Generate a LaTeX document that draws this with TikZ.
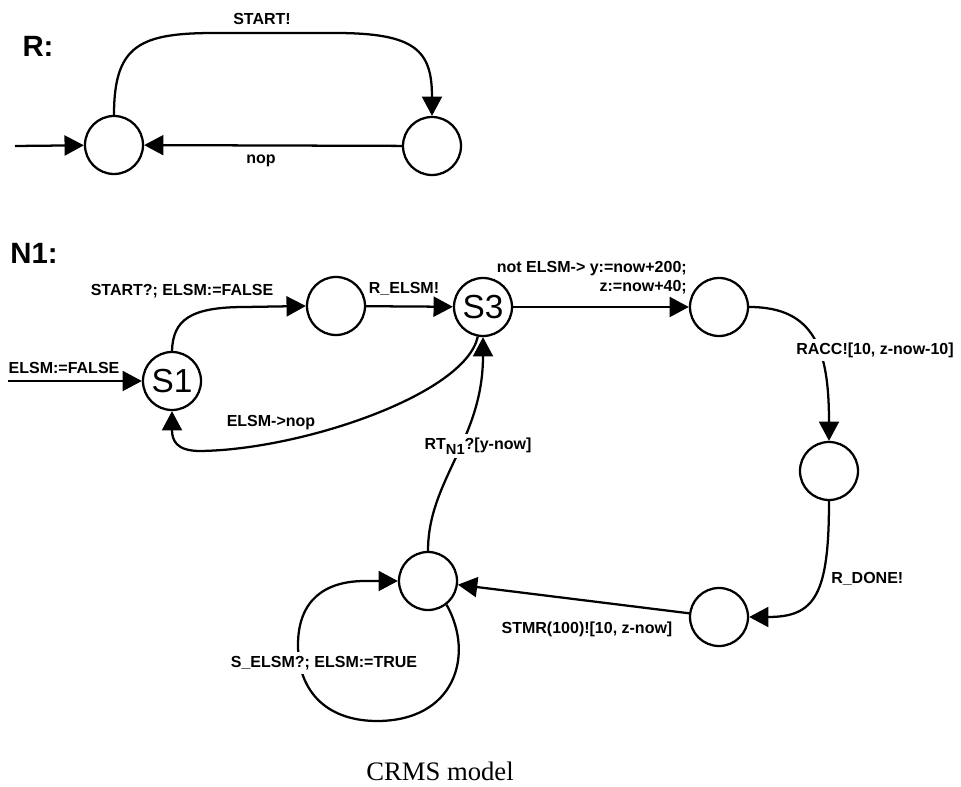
\documentclass[tikz,border=0pt]{standalone}
\usepackage{fontspec}
\setmainfont{Liberation Sans}
\newfontfamily\capfont{Liberation Serif}
\usepackage{tikz}
\usetikzlibrary{calc}
\usetikzlibrary{arrows.meta}

\begin{document}
\begin{tikzpicture}[x=0.75pt,y=-0.75pt]
			\tikzstyle{every node}=[font=\fontsize{12}{14.25}\selectfont\bfseries, inner sep=1.5pt]
			\tikzstyle{state}=[circle, draw, line width=1.7pt, minimum size=43.5pt, inner sep=0pt, font=\fontsize{25}{25}\selectfont]
			\tikzstyle{trans}=[line width=1.7pt, -{Triangle[length=14.5pt,width=15pt]}]
			\tikzstyle{cut}=[fill=white, inner sep=3pt]
			\tikzstyle{title}=[font=\fontsize{22}{22}\selectfont\bfseries]
			
			\useasboundingbox (0,0) rectangle (961,787);
			
			\node[title] (rname) at (38,46) {R:};
			\node[state] (r0) at (114,145) {};
			\node[state] (r1) at (432,146) {};
			\coordinate (rin) at (15,146);
			\draw[trans] (rin) -- (r0);
			\draw[trans] (r0.north) .. controls (114,45) and (140,33) .. (215,33) -- (335,33) .. controls (415,33) and (432,50) .. (r1.north);
			\draw[trans] (r1) -- (r0);
			\node (rstart) at (262,19) {START!};
			\node (rnop) at (261,161) {nop};
			
			\node[title] (nname) at (34,253) {N1:};
			\node[state] (s1) at (172,381) {S1};
			\node[state] (m1) at (336,306) {};
			\node[state] (s3) at (483,307) {S3};
			\node[state] (t1) at (719,307) {};
			\node[state] (t2) at (829,471) {};
			\node[state] (t3) at (719,617) {};
			\node[state] (t4) at (428,581) {};
			\coordinate (nin) at (8,381);
			
			\draw[trans] (nin) -- (s1);
			\draw[trans] (s1.north) .. controls (173,320) and (190,307) .. (245,307) -- (m1.west);
			\draw[trans] (m1) -- (s3);
			\draw[trans] (s3) -- (t1);
			\draw[trans] (t1.east) .. controls (815,307) and (829,350) .. (t2.north);
			\draw[trans] (t2.south) .. controls (829,595) and (815,617) .. (t3.east);
			\draw[trans] (t3) -- (t4);
			\draw[trans] (t4.north) .. controls (428,480) and (483,440) .. (s3.south);
			\draw[trans] (s3.-100) .. controls (465,395) and (300,450) .. (200,451) .. controls (176,451) and (172,440) .. (s1.south);
			\draw[trans] (t4.-52) .. controls (475,655) and (455,722) .. (375,721) .. controls (325,720) and (298,690) .. (298,645) .. controls (298,600) and (325,581) .. (365,581) -- (t4.west);
			
			\node (linit) at (64,368) {ELSM:=FALSE};
			\node (lstart) at (182,291) {START?; ELSM:=FALSE};
			\node (lrelsm) at (404,289) {R\_ELSM!};
			\node[align=right, anchor=east] (lnot) at (689,278) {not ELSM-> y:=now+200;\\ z:=now+40;};
			\node[cut] (lracc) at (875,350) {RACC![10, z-now-10]};
			\node[anchor=west] (lrdone) at (829,579) {R\_DONE!};
			\node (lstmr) at (587,629) {STMR(100)![10, z-now]};
			\node[cut] (lrt) at (478,446) {RT\raisebox{-4pt}{\fontsize{11}{11}\selectfont N1}?[y-now]};
			\node (lnop) at (271,423) {ELSM->nop};
			\node[cut] (lself) at (324,663) {S\_ELSM?; ELSM:=TRUE};
			
			\node[font=\capfont\fontsize{20}{20}\selectfont] (caption) at (440,771) {CRMS model};
			
\end{tikzpicture}
\end{document}
